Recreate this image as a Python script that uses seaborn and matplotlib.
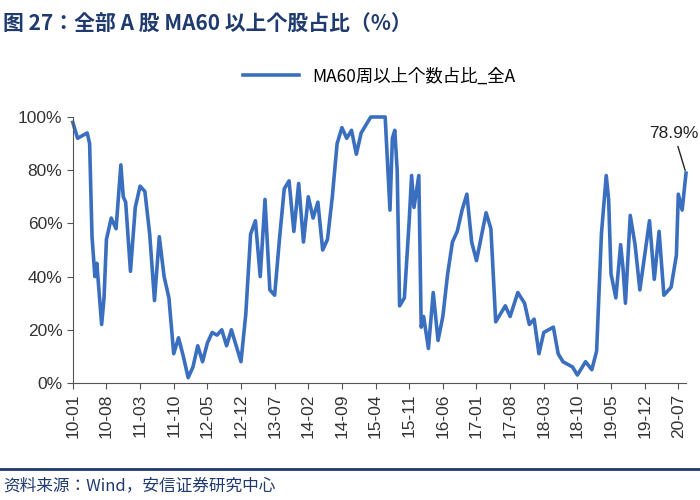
import numpy as np
import pandas as pd
import matplotlib
matplotlib.use("Agg")
import matplotlib.pyplot as plt
from matplotlib import font_manager
import seaborn as sns

cjk = [f.name for f in font_manager.fontManager.ttflist if "CJK" in f.name]
cjk_font = "Noto Sans CJK SC" if "Noto Sans CJK SC" in cjk else cjk[0]
plt.rcParams["font.family"] = "sans-serif"
plt.rcParams["font.sans-serif"] = [cjk_font, "DejaVu Sans"]
latin = "Liberation Sans"

# months elapsed since 2010-01, and share of stocks above MA60 (%)
months = [0, 1, 2, 3, 3.5, 4, 4.6, 5, 6, 6.5, 7, 8, 9, 10, 10.5, 11, 12, 13, 14, 15,
          16, 17, 18, 19, 20, 21, 22, 23, 24, 25, 26, 27, 28, 29, 30, 31, 32, 33, 35,
          36, 37, 38, 39, 40, 41, 42, 43, 44, 45, 46, 47, 48, 49, 50, 51, 52, 53, 54,
          55, 56, 57, 58, 59, 60, 62, 65, 66, 66.5, 67, 67.5, 68, 69, 70, 70.5, 71, 72,
          72.5, 73, 74, 75, 76, 77, 78, 79, 80, 81, 82, 83, 84, 86, 87, 88, 90, 91,
          92.6, 94, 95, 96, 97, 98, 100, 101, 102, 104, 105, 106.7, 108, 109, 110,
          111, 111.5, 112, 113, 114, 114.5, 115, 116, 117, 118, 120, 121, 122, 123,
          124.5, 125.6, 126, 126.8, 127.6]
share = [98, 92, 93, 94, 90, 55, 40, 45, 22, 32, 54, 62, 58, 82, 70, 68, 42, 66, 74, 72,
         56, 31, 55, 40, 32, 11, 17, 10, 2, 6, 14, 8, 15, 19, 18, 20, 14, 20, 8,
         26, 56, 61, 40, 69, 35, 33, 54, 73, 76, 57, 75, 53, 70, 62, 68, 50, 54, 70,
         90, 96, 92, 95, 86, 94, 100, 100, 65, 92, 95, 80, 29, 32, 61, 78, 66, 78,
         21, 25, 13, 34, 16, 25, 41, 53, 57, 65, 71, 53, 46, 64, 58, 23, 29, 25,
         34, 30, 22, 24, 11, 19, 21, 11, 8, 6, 3, 8, 5, 12, 56,
         78, 69, 41, 32, 52, 43, 30, 63, 52, 35, 61, 39, 57, 33,
         36, 48, 71, 65, 78.9]
tick_labels = ["10-01", "10-08", "11-03", "11-10", "12-05", "12-12", "13-07", "14-02",
               "14-09", "15-04", "15-11", "16-06", "17-01", "17-08", "18-03", "18-10",
               "19-05", "19-12", "20-07"]

df = pd.DataFrame({"month": months, "share": share})
tick_pos = [(int(t[:2]) - 10) * 12 + int(t[3:]) - 1 for t in tick_labels]

blue = "#3a6fc0"
navy = "#1f3a6e"

fig = plt.figure(figsize=(7, 5), dpi=100)
ax = fig.add_axes([0.104, 0.234, 0.876, 0.532])
sns.lineplot(data=df, x="month", y="share", ax=ax, color=blue, linewidth=2.6,
             label="MA60周以上个数占比_全A", clip_on=False)

ax.set_xlim(0, 127.6)
ax.set_ylim(0, 100)
ax.set_yticks(range(0, 101, 20))
ax.set_yticklabels([f"{v}%" for v in range(0, 101, 20)], fontsize=12.5,
                   color="#333333", fontfamily=latin)
ax.set_xticks(tick_pos)
ax.set_xticklabels(tick_labels, rotation=90, fontsize=12.5, color="#333333",
                   fontfamily=latin)
ax.set_xlabel("")
ax.set_ylabel("")
for s in ["top", "right"]:
    ax.spines[s].set_visible(False)
for s in ["left", "bottom"]:
    ax.spines[s].set_color("#555555")
ax.tick_params(axis="both", length=4, color="#555555")

ax.legend(loc="lower center", bbox_to_anchor=(0.5, 1.06), frameon=False, fontsize=12.5,
          handlelength=3.2)

ax.annotate("78.9%", xy=(months[-1], share[-1]), xytext=(months[-1] - 2.5, 91),
            ha="center", va="bottom", fontsize=12.5, color="#222222", fontfamily=latin,
            arrowprops=dict(arrowstyle="-", color="#222222", lw=1))

fig.text(0.004, 0.975, "图 27：全部 A 股 MA60 以上个股占比（%）", fontsize=15,
         fontweight="bold", color=navy, va="top")
fig.add_artist(plt.Line2D([0, 1], [0.063, 0.063], color=navy, lw=2))
fig.text(0.004, 0.028, "资料来源：Wind，安信证券研究中心", fontsize=12,
         style="italic", color=navy, va="center")

fig.savefig("out.png", dpi=100)
